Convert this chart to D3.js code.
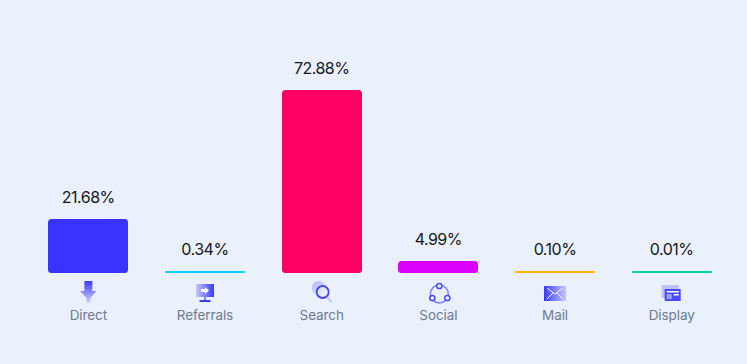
<!DOCTYPE html>
<html>
<head>
<meta charset="utf-8">
<script src="https://cdn.jsdelivr.net/npm/d3@7"></script>
<style>
  html, body { margin: 0; padding: 0; background: #eaf0fc; overflow: hidden; }
  text { font-family: Inter, "Noto Sans", sans-serif; }
</style>
</head>
<body>
<svg id="chart" width="747" height="364"></svg>
<script>
// Chart data
const categories = ["Direct", "Referrals", "Search", "Social", "Mail", "Display"];
const shares = [21.68, 0.34, 72.88, 4.99, 0.10, 0.01];
const barColors = ["#3a32ff", "#00d2ff", "#ff0062", "#dc00ff", "#ffb300", "#00d29c"];

const svg = d3.select("#chart");
const baseline = 273;
const plotTop = 90;
const minBar = 2;

const xScale = d3.scaleBand()
  .domain(categories)
  .range([30, 730])
  .paddingInner(0.3143)
  .paddingOuter(0.1571);

const yScale = d3.scaleLinear()
  .domain([0, 72.88])
  .range([baseline, plotTop]);

// Gradients used by the icons
const defs = svg.append("defs");
function gradient(id, x2, y2, from, to) {
  const g = defs.append("linearGradient").attr("id", id)
    .attr("x1", 0).attr("y1", 0).attr("x2", x2).attr("y2", y2);
  g.append("stop").attr("offset", 0).attr("stop-color", from);
  g.append("stop").attr("offset", 1).attr("stop-color", to);
}
gradient("down", 0, 1, "#3a3aff", "#d5d8ff");
gradient("across", 1, 0, "#c4c8ff", "#3a3aff");
gradient("acrossRev", 1, 0, "#3a3aff", "#c4c8ff");
gradient("fade", 1, 1, "#b4baff", "#dfe4ff");

// Bars, floored at a thin line so tiny shares stay visible
const barTop = v => Math.ceil(Math.min(yScale(v), baseline - minBar));
const barLeft = c => Math.round(xScale(c));

svg.selectAll(".bar")
  .data(categories)
  .enter().append("rect")
  .attr("class", "bar")
  .attr("x", d => barLeft(d))
  .attr("y", (d, i) => barTop(shares[i]))
  .attr("width", Math.round(xScale.bandwidth()))
  .attr("height", (d, i) => baseline - barTop(shares[i]))
  .attr("rx", (d, i) => Math.min(3.5, (baseline - barTop(shares[i])) / 2))
  .attr("fill", (d, i) => barColors[i]);

// Value labels
svg.selectAll(".value")
  .data(categories)
  .enter().append("text")
  .attr("class", "value")
  .attr("x", d => xScale(d) + xScale.bandwidth() / 2)
  .attr("y", (d, i) => barTop(shares[i]) - 16)
  .attr("text-anchor", "middle")
  .style("font-size", "16px")
  .style("letter-spacing", "-0.5px")
  .attr("fill", "#14181f")
  .text((d, i) => shares[i].toFixed(2) + "%");

// Category labels
const axis = svg.append("g")
  .attr("transform", `translate(0,${baseline})`)
  .call(d3.axisBottom(xScale).tickSize(0).tickPadding(37));
axis.select(".domain").remove();
axis.selectAll("text")
  .style("font-size", "13.5px")
  .style("letter-spacing", "-0.1px")
  .style("font-family", "Inter, 'Noto Sans', sans-serif")
  .attr("fill", "#6d7b91");

// Icons, drawn around the centre of each band
const icons = {
  Direct(g) {
    g.append("path").attr("d", "M-4,-11H4V-1H8L2,6V10Q0,13,-2,10V6L-8,-1H-4Z").attr("fill", "url(#down)");
  },
  Referrals(g) {
    g.append("rect").attr("x", -9).attr("y", -8).attr("width", 18).attr("height", 13).attr("fill", "url(#across)");
    g.append("path").attr("d", "M-4,-3H0V-5L4,-1.5L0,2V0H-4Z").attr("fill", "#fff");
    g.append("rect").attr("x", -1).attr("y", 5).attr("width", 2).attr("height", 3).attr("fill", "#7c7fff");
    g.append("rect").attr("x", -5.5).attr("y", 8).attr("width", 11).attr("height", 2).attr("fill", "#3a3aff");
  },
  Search(g) {
    g.append("circle").attr("cx", -3).attr("cy", -4).attr("r", 7).attr("fill", "url(#fade)");
    g.append("circle").attr("cx", 1).attr("cy", 0).attr("r", 6).attr("fill", "#eaf0fc").attr("fill-opacity", 0.6).attr("stroke", "#4545ff").attr("stroke-width", 1.8);
    g.append("line").attr("x1", 5.5).attr("y1", 5).attr("x2", 10).attr("y2", 10).attr("stroke", "#c4c8ff").attr("stroke-width", 2);
  },
  Social(g) {
    g.append("circle").attr("cx", 1).attr("cy", 2).attr("r", 9).attr("fill", "none").attr("stroke", "#7f84ff").attr("stroke-width", 1.5);
    [[1, -6], [-6, 6], [9, 6]].forEach(p => {
      g.append("circle").attr("cx", p[0]).attr("cy", p[1]).attr("r", 2.6)
        .attr("fill", "#eaf0fc").attr("stroke", "#4a4aff").attr("stroke-width", 1.5);
    });
  },
  Mail(g) {
    g.append("rect").attr("x", -11).attr("y", -6).attr("width", 22).attr("height", 15).attr("fill", "url(#acrossRev)");
    g.append("path").attr("d", "M-8,-4L0,2L8,-4M-8,7L-2,1M8,7L2,1").attr("fill", "none").attr("stroke", "#fff").attr("stroke-width", 1);
  },
  Display(g) {
    g.append("rect").attr("x", -10).attr("y", -7).attr("width", 17).attr("height", 13).attr("fill", "#bcc2ff");
    g.append("rect").attr("x", -7).attr("y", -3).attr("width", 16).attr("height", 12).attr("fill", "#4a4aff");
    g.append("rect").attr("x", -5).attr("y", -1).attr("width", 12).attr("height", 1.5).attr("fill", "#fff");
    g.append("rect").attr("x", -5).attr("y", 2).attr("width", 5).attr("height", 5).attr("fill", "#9ea4ff");
    g.append("rect").attr("x", 2).attr("y", 2).attr("width", 5).attr("height", 1.5).attr("fill", "#fff");
  }
};

categories.forEach(c => {
  const g = svg.append("g")
    .attr("class", "icon")
    .attr("transform", `translate(${xScale(c) + xScale.bandwidth() / 2},${baseline + 19})`);
  icons[c](g);
});
</script>
</body>
</html>
